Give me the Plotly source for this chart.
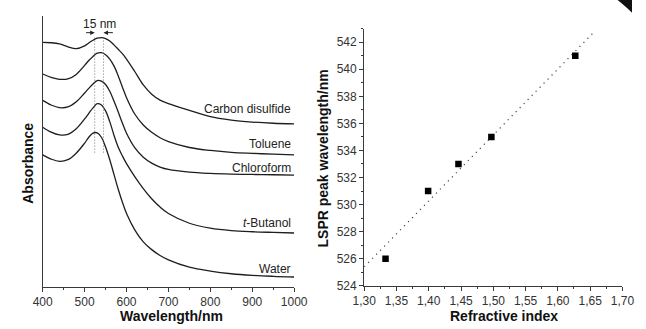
import plotly.graph_objects as go

# ---------------- data ----------------
wavelength = [400, 420, 440, 460, 480, 500, 510, 520, 530, 540, 550, 560, 570, 580, 590,
              600, 620, 640, 660, 680, 700, 750, 800, 850, 900, 950, 1000]

abs_cs2 = [250.0, 249.7, 248.5, 245.5, 243.7, 246.5, 249.5, 252.3, 254.3, 255.0, 254.0, 251.5, 247.5, 243.0, 238.5,
           233.0, 220.0, 206.5, 197.0, 191.0, 187.5, 180.5, 174.0, 170.5, 168.5, 167.3, 166.7]
abs_toluene = [217.7, 214.3, 212.3, 212.7, 217.3, 226.5, 231.5, 235.7, 239.0, 239.5, 237.5, 233.0, 226.0, 216.0, 204.5,
               193.5, 176.5, 165.5, 158.0, 152.5, 148.5, 142.5, 139.5, 137.5, 136.5, 135.7, 135.0]
abs_chloroform = [190.7, 186.0, 183.3, 184.0, 189.3, 198.3, 203.0, 207.5, 211.0, 210.5, 207.0, 200.0, 190.0, 179.0, 167.5,
                  157.0, 142.0, 132.5, 126.5, 122.5, 120.0, 117.3, 116.0, 115.3, 114.9, 114.6, 114.3]
abs_butanol = [163.3, 158.3, 155.5, 156.0, 161.7, 171.7, 177.5, 183.0, 187.3, 186.0, 180.0, 169.0, 155.0, 143.0, 134.0,
               126.0, 112.5, 100.5, 90.0, 81.5, 75.0, 65.0, 60.0, 57.5, 56.3, 55.6, 55.0]
abs_water = [135.0, 130.7, 128.3, 130.0, 136.7, 147.0, 153.0, 157.3, 157.5, 153.0, 143.0, 130.0, 115.0, 100.0, 86.7,
             75.0, 58.0, 46.0, 38.0, 32.0, 27.5, 20.0, 16.0, 13.3, 11.7, 10.7, 10.0]

curve_labels = ["Carbon disulfide", "Toluene", "Chloroform", "<i>t</i>-Butanol", "Water"]
label_y = [181.7, 146.0, 121.7, 65.0, 18.0]

peak_marks = [524, 545]          # dotted guide lines (nm)
peak_mark_span = [137.3, 256.7]  # vertical extent of the guide lines
shift_label = "15 nm"

refractive_index = [1.333, 1.399, 1.446, 1.497, 1.627]
lspr_peak = [526, 531, 533, 535, 541]
fit_x = [1.30, 1.655]
fit_y = [525.4, 542.7]

# ---------------- figure ----------------
W, H = 646, 329
FONT = "Arial, Liberation Sans, sans-serif"
AX = "#3a3a3a"
LINE = "#1e1e1e"

fig = go.Figure()

series = [abs_cs2, abs_toluene, abs_chloroform, abs_butanol, abs_water]
for s in series:
    fig.add_trace(go.Scatter(x=wavelength, y=s, mode="lines",
                             line=dict(color=LINE, width=1.3, shape="spline", smoothing=1.0),
                             xaxis="x", yaxis="y", showlegend=False, hoverinfo="skip"))

for pm in peak_marks:
    fig.add_trace(go.Scatter(x=[pm, pm], y=peak_mark_span, mode="lines",
                             line=dict(color="#666", width=0.9, dash="1px,2px"),
                             xaxis="x", yaxis="y", showlegend=False, hoverinfo="skip"))

fig.add_trace(go.Scatter(x=fit_x, y=fit_y, mode="lines",
                         line=dict(color="#444", width=1.2, dash="1.2px,4.5px"),
                         xaxis="x2", yaxis="y2", showlegend=False, hoverinfo="skip"))
fig.add_trace(go.Scatter(x=refractive_index, y=lspr_peak, mode="markers",
                         marker=dict(symbol="square", size=6.5, color="black"),
                         xaxis="x2", yaxis="y2", showlegend=False, hoverinfo="skip"))

axis_common = dict(showgrid=False, zeroline=False, showline=True, linecolor=AX, linewidth=1.3,
                   tickfont=dict(family=FONT, size=12, color="#333"))

fig.update_layout(
    width=W, height=H,
    margin=dict(l=0, r=0, t=0, b=0),
    paper_bgcolor="white", plot_bgcolor="white",
    separators=", ",
    xaxis=dict(domain=[32 / W, 294 / W], range=[400, 1000], tick0=400, dtick=100,
               ticks="outside", ticklen=4, tickcolor=AX, tickwidth=1,
               minor=dict(dtick=50, ticks="outside", ticklen=2, tickcolor=AX),
               anchor="y", **axis_common),
    yaxis=dict(domain=[(H - 293) / H, (H - 16.7) / H], range=[0, 276.7],
               showticklabels=False, ticks="", anchor="x", **axis_common),
    xaxis2=dict(domain=[367 / W, 636 / W], range=[1.30, 1.70], tick0=1.30, dtick=0.05,
                tickformat=".2f", ticks="outside", ticklen=4, tickcolor=AX, tickwidth=1,
                minor=dict(dtick=0.025, ticks="outside", ticklen=2, tickcolor=AX),
                anchor="y2", **axis_common),
    yaxis2=dict(domain=[(H - 292) / H, (H - 29.3) / H], range=[524, 543], tick0=524, dtick=2,
                ticks="outside", ticklen=4, tickcolor=AX, tickwidth=1,
                minor=dict(dtick=1, ticks="outside", ticklen=2, tickcolor=AX),
                anchor="x2", **axis_common),
)

ann = []
for t, yy in zip(curve_labels, label_y):
    ann.append(dict(x=997, y=yy, xref="x", yref="y", text=t, showarrow=False,
                    xanchor="right", yanchor="middle",
                    font=dict(family=FONT, size=12, color="#222")))
ann.append(dict(x=(peak_marks[0] + peak_marks[1]) / 2, y=268.5, xref="x", yref="y",
                text=shift_label, showarrow=False, xanchor="center", yanchor="middle",
                font=dict(family=FONT, size=12, color="#222")))
ann.append(dict(x=peak_marks[0], y=260, ax=500, ay=260, xref="x", yref="y", axref="x", ayref="y",
                text="", showarrow=True, arrowhead=2, arrowsize=0.9, arrowwidth=1, arrowcolor="#222"))
ann.append(dict(x=peak_marks[1], y=260, ax=571, ay=260, xref="x", yref="y", axref="x", ayref="y",
                text="", showarrow=True, arrowhead=2, arrowsize=0.9, arrowwidth=1, arrowcolor="#222"))

title_font = dict(family=FONT, size=14, color="#111")
ann.append(dict(x=166 / W, y=(H - 322.5) / H, xref="paper", yref="paper", text="<b>Wavelength/nm</b>",
                showarrow=False, xanchor="center", yanchor="middle", font=title_font))
ann.append(dict(x=17 / W, y=(H - 167) / H, xref="paper", yref="paper", text="<b>Absorbance</b>",
                showarrow=False, xanchor="center", yanchor="middle", textangle=-90, font=title_font))
ann.append(dict(x=513 / W, y=(H - 323) / H, xref="paper", yref="paper", text="<b>Refractive index</b>",
                showarrow=False, xanchor="center", yanchor="middle", font=title_font))
ann.append(dict(x=324 / W, y=(H - 162) / H, xref="paper", yref="paper",
                text="<b>LSPR peak wavelength/nm</b>",
                showarrow=False, xanchor="center", yanchor="middle", textangle=-90, font=title_font))
fig.update_layout(annotations=ann)

# dark corner artifact at top-right
fig.add_shape(type="path", xref="paper", yref="paper",
              path=f"M {631 / W},1 L 1,1 L 1,{1 - 13 / H} Q {641 / W},{1 - 8 / H} {631 / W},1 Z",
              fillcolor="#111", line=dict(width=0))

fig.write_html("out.html")
